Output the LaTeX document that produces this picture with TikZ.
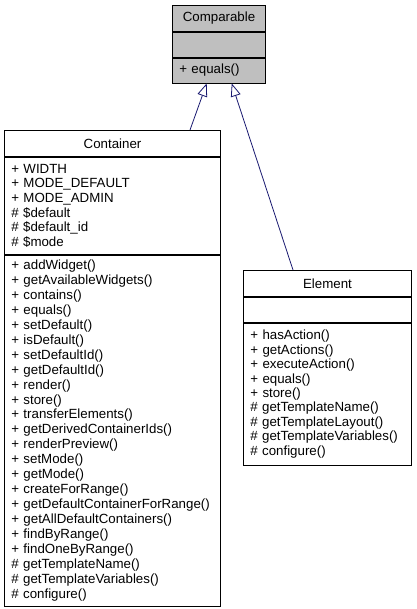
\documentclass[tikz,border=0pt]{standalone}
\usepackage{fontspec}
\setmainfont{Liberation Sans}
\usetikzlibrary{positioning,arrows.meta}
\definecolor{umlgray}{HTML}{BFBFBF}
\definecolor{umlnavy}{HTML}{191970}

\begin{document}
\begin{tikzpicture}[
        x=1pt, y=-1pt,
        box/.style={draw=black, line width=0.8pt, inner xsep=7pt, inner ysep=0pt,
                    font=\fontsize{13.3}{14.6}\selectfont},
        title/.style={box, align=center, minimum height=26pt, minimum width=#1},
        members/.style={box, align=left, text width=#1},
        inherit/.style={umlnavy, line width=0.8pt,
                        -{Triangle[open, length=13pt, width=10pt, fill=white]}}
    ]
    \useasboundingbox (0,0) rectangle (416,609);

    % Třída Comparable
    \node[title=93.4pt, fill=umlgray, anchor=north] (comparable) at (219,5) {Comparable};
    \node[members=79.4pt, fill=umlgray, minimum height=25pt, below=0pt of comparable]
        (comparableattr) {};
    \node[members=79.4pt, fill=umlgray, minimum height=25pt, below=0pt of comparableattr]
        (comparableops) {+ equals()};

    % Třída Container
    \node[title=216.4pt, anchor=north] (container) at (112.5,130) {Container};
    \node[members=202.4pt, minimum height=97pt, below=0pt of container] (containerattr)
        {+ WIDTH\\+ MODE\_DEFAULT\\+ MODE\_ADMIN\\\# \$default\\\# \$default\_id\\\# \$mode};
    \node[members=202.4pt, minimum height=351pt, below=0pt of containerattr,
          font=\fontsize{13.3}{14.95}\selectfont] (containerops)
        {+ addWidget()\\+ getAvailableWidgets()\\+ contains()\\+ equals()\\
         + setDefault()\\+ isDefault()\\+ setDefaultId()\\+ getDefaultId()\\
         + render()\\+ store()\\+ transferElements()\\+ getDerivedContainerIds()\\
         + renderPreview()\\+ setMode()\\+ getMode()\\+ createForRange()\\
         + getDefaultContainerForRange()\\+ getAllDefaultContainers()\\
         + findByRange()\\+ findOneByRange()\\\# getTemplateName()\\
         \# getTemplateVariables()\\\# configure()};

    % Třída Element
    \node[title=168.4pt, anchor=north] (element) at (327.5,270) {Element};
    \node[members=154.4pt, minimum height=25pt, below=0pt of element] (elementattr) {};
    \node[members=154.4pt, minimum height=142pt, below=0pt of elementattr,
          font=\fontsize{13.3}{14.4}\selectfont] (elementops)
        {+ hasAction()\\+ getActions()\\+ executeAction()\\+ equals()\\+ store()\\
         \# getTemplateName()\\\# getTemplateLayout()\\\# getTemplateVariables()\\
         \# configure()};

    % Dědičnost
    \draw[inherit] ([xshift=77.5pt]container.north) -- ([xshift=-12.3pt]comparableops.south);
    \draw[inherit] ([xshift=-34.5pt]element.north) -- ([xshift=12.7pt]comparableops.south);

\end{tikzpicture}
\end{document}
